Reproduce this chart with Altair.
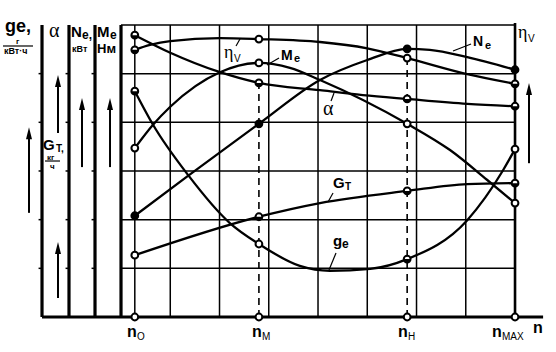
import altair as alt
import pandas as pd

# ---------------- data (grid units: x = n divisions 0..8, y = value divisions 0..6) ----------------
N_POS = [0.28, 2.80, 5.81, 8.00]
N_SUBS = ["O", "M", "H", "MAX"]
N_LABEL_X = [0.122, 2.660, 5.624, 7.533]
N_SUB_X = [0.325, 2.863, 5.827, 7.736]

ALPHA_X = [0.28, 1.00, 2.01, 2.80, 4.04, 4.91, 5.81, 7.03, 8.00]
ALPHA_Y = [5.79, 5.43, 5.03, 4.81, 4.66, 4.56, 4.48, 4.38, 4.33]

ETA_X = [0.28, 0.59, 1.00, 2.01, 2.80, 4.04, 5.00, 5.81, 7.03, 8.00]
ETA_Y = [5.49, 5.59, 5.67, 5.73, 5.71, 5.65, 5.52, 5.32, 4.99, 4.79]

NE_X = [0.28, 1.36, 2.80, 4.04, 5.00, 5.81, 6.27, 7.03, 8.00]
NE_Y = [2.08, 2.90, 3.97, 4.87, 5.28, 5.51, 5.49, 5.34, 5.08]

ME_X = [0.28, 0.65, 1.00, 2.01, 2.80, 3.43, 4.04, 5.81, 6.68, 7.43, 8.00]
ME_Y = [3.47, 3.95, 4.32, 5.03, 5.22, 5.12, 4.87, 3.97, 3.43, 2.82, 2.34]

GE_X = [0.28, 0.65, 1.36, 2.21, 2.80, 3.63, 4.24, 5.06, 5.81, 7.03, 7.76, 8.00]
GE_Y = [4.64, 3.95, 2.92, 1.93, 1.50, 1.05, 0.95, 0.99, 1.19, 1.99, 3.02, 3.45]

GT_X = [0.28, 2.80, 4.04, 5.81, 7.03, 8.00]
GT_Y = [1.27, 2.06, 2.34, 2.59, 2.73, 2.75]

SERIES = {
    "alpha": (ALPHA_X, ALPHA_Y),
    "eta": (ETA_X, ETA_Y),
    "Ne": (NE_X, NE_Y),
    "Me": (ME_X, ME_Y),
    "ge": (GE_X, GE_Y),
    "GT": (GT_X, GT_Y),
}
MARKER_TYPES = {
    "alpha": ["half", "half", "half", "half"],
    "eta": ["half", "open", "open", "half"],
    "Ne": ["filled", "filled", "filled", "filled"],
    "Me": ["open", "open", "open", "open"],
    "ge": ["half", "open", "half", "open"],
    "GT": ["open", "half", "half", "half"],
}

# left-hand scale columns (ge, alpha/GT, Ne, Me) and the right eta_v scale
LEFT_AXES = [-1.604, -1.056, -0.528, 0.0]
GRID_COLS = [1, 2, 3, 4, 5, 6, 7]
GRID_ROWS = [1, 2, 3, 4, 5, 6]
TICK_ROWS = [1, 2, 3, 4, 5]

ARROW_X = [-1.868, -1.279, -1.279, -0.792, -0.223, 8.284]
ARROW_TAIL = [2.14, 3.78, 0.39, 3.08, 3.08, 3.16]
ARROW_TIP = [3.90, 4.97, 1.54, 4.50, 4.50, 4.81]

X_DOM = [-2.457, 8.832]
Y_DOM = [-0.719, 6.513]

# ---------------- tables ----------------
xs = alt.Scale(domain=X_DOM, nice=False, zero=False)
ys = alt.Scale(domain=Y_DOM, nice=False, zero=False)


def seg_df(rows):
    return pd.DataFrame(rows, columns=["x", "y", "x2", "y2"])


grid_rows = [(c, 0, c, 6) for c in GRID_COLS]
grid_rows += [(0, r, 8, r) for r in GRID_ROWS]
grid_rows += [(N_POS[0], 0, N_POS[0], 6)]
grid_df = seg_df(grid_rows)

axis_rows = [(a, 0, a, 6) for a in LEFT_AXES]
axis_rows += [(LEFT_AXES[0], 0, 8.57, 0)]
axis_df = seg_df(axis_rows)
right_df = seg_df([(8.0, 0, 8.0, 6.04)])

tick_rows = [(a - 0.07, r, a, r) for a in LEFT_AXES[:3] for r in TICK_ROWS]
tick_df = seg_df(tick_rows)

dash_df = seg_df([(N_POS[1], 0, N_POS[1], 4.74), (N_POS[2], 0, N_POS[2], 5.45)])

leader_df = seg_df([
    (2.335, 5.568, 2.416, 5.712),
    (3.208, 5.322, 2.964, 5.178),
    (4.264, 4.438, 4.325, 4.602),
    (7.107, 5.609, 6.741, 5.465),
    (4.305, 2.548, 4.203, 2.363),
    (4.365, 1.315, 4.223, 0.966),
    (-2.396, 5.568, -1.787, 5.568),
    (-1.543, 3.205, -1.239, 3.205),
])

shaft_df = seg_df([(x, t0, x, t1 - 0.1) for x, t0, t1 in zip(ARROW_X, ARROW_TAIL, ARROW_TIP)])
head_df = pd.DataFrame({"x": ARROW_X, "y": ARROW_TIP})

line_rows = []
for name, (sx, sy) in SERIES.items():
    for i, (a, b) in enumerate(zip(sx, sy)):
        line_rows.append({"series": name, "x": a, "y": b, "o": i})
line_df = pd.DataFrame(line_rows)

mk_rows = []
for name, (sx, sy) in SERIES.items():
    for k, n in enumerate(N_POS):
        idx = min(range(len(sx)), key=lambda j: abs(sx[j] - n))
        mk_rows.append({"x": sx[idx], "y": sy[idx], "kind": MARKER_TYPES[name][k]})
for n in N_POS:
    mk_rows.append({"x": n, "y": 0.0, "kind": "open"})
mk_df = pd.DataFrame(mk_rows)

texts = [
    ("ge,", -2.355, 5.856, 18, "sansb"),
    ("г", -2.132, 5.609, 8, "sansb"),
    ("кВт·ч", -2.376, 5.404, 9, "sansb"),
    ("α", -1.462, 5.753, 20, "serif"),
    ("N", -1.015, 5.753, 15, "sansb"),
    ("e,", -0.792, 5.712, 12, "sansb"),
    ("кВт", -0.995, 5.445, 9, "sansb"),
    ("M", -0.487, 5.753, 15, "sansb"),
    ("e", -0.223, 5.712, 12, "sansb"),
    ("Нм", -0.487, 5.424, 13, "sansb"),
    ("G", -1.584, 3.431, 15, "sansb"),
    ("T,", -1.320, 3.390, 10, "sansb"),
    ("кг", -1.503, 3.236, 8, "sansb"),
    ("ч", -1.442, 3.041, 8, "sansb"),
    ("η", 8.061, 5.732, 18, "serif"),
    ("V", 8.264, 5.650, 10, "sans"),
    ("η", 2.091, 5.322, 18, "serif"),
    ("V", 2.294, 5.239, 10, "sans"),
    ("M", 3.249, 5.280, 14, "sansb"),
    ("e", 3.513, 5.239, 11, "sansb"),
    ("α", 4.102, 4.150, 20, "serif"),
    ("N", 7.147, 5.568, 14, "sansb"),
    ("e", 7.391, 5.506, 11, "sansb"),
    ("G", 4.305, 2.651, 15, "sansb"),
    ("T", 4.548, 2.609, 10, "sansb"),
    ("g", 4.305, 1.459, 15, "sansb"),
    ("e", 4.487, 1.418, 12, "sansb"),
    ("n", 8.365, -0.329, 16, "sansb"),
]
for lx, sx_, sub in zip(N_LABEL_X, N_SUB_X, N_SUBS):
    texts.append(("n", lx, -0.411, 16, "sansb"))
    texts.append((sub, sx_, -0.473, 10, "sans"))
text_df = pd.DataFrame(texts, columns=["t", "x", "y", "s", "g"])

# ---------------- layers ----------------
def rules(df, width, dash=None):
    kw = dict(color="black", strokeWidth=width, strokeCap="butt")
    if dash:
        kw["strokeDash"] = dash
    return alt.Chart(df).mark_rule(**kw).encode(
        x=alt.X("x:Q", scale=xs, axis=None),
        y=alt.Y("y:Q", scale=ys, axis=None),
        x2="x2:Q",
        y2="y2:Q",
    )


grid = rules(grid_df, 1.5)
axes = rules(axis_df, 3.2)
right = rules(right_df, 2.6)
ticks = rules(tick_df, 1.5)
dashed = rules(dash_df, 1.6, [7, 5])
leaders = rules(leader_df, 1.2)
shafts = rules(shaft_df, 2)

heads = alt.Chart(head_df).mark_point(
    shape="M 0 0 L -0.25 1 L 0.25 1 Z", size=576, filled=True, color="black", opacity=1
).encode(x=alt.X("x:Q", scale=xs, axis=None), y=alt.Y("y:Q", scale=ys, axis=None))

curves = alt.Chart(line_df).mark_line(
    color="black", strokeWidth=2.3, interpolate="monotone"
).encode(
    x=alt.X("x:Q", scale=xs, axis=None),
    y=alt.Y("y:Q", scale=ys, axis=None),
    detail="series:N",
    order="o:Q",
)

mxy = dict(x=alt.X("x:Q", scale=xs, axis=None), y=alt.Y("y:Q", scale=ys, axis=None))
base_pts = alt.Chart(mk_df).mark_point(
    shape="circle", size=46, filled=False, fill="white", fillOpacity=1,
    stroke="black", strokeWidth=2, opacity=1
).encode(**mxy)
filled_pts = alt.Chart(mk_df).transform_filter(alt.datum.kind == "filled").mark_point(
    shape="circle", size=46, filled=True, color="black", opacity=1
).encode(**mxy)
HALF = "M -1 0 L -0.92 0.38 L -0.71 0.71 L -0.38 0.92 L 0 1 L 0.38 0.92 L 0.71 0.71 L 0.92 0.38 L 1 0 Z"
half_pts = alt.Chart(mk_df).transform_filter(alt.datum.kind == "half").mark_point(
    shape=HALF, size=46, filled=True, color="black", opacity=1
).encode(**mxy)


def text_layer(group, font, weight):
    return alt.Chart(text_df).transform_filter(alt.datum.g == group).mark_text(
        font=font, fontWeight=weight, align="left", baseline="alphabetic", color="black"
    ).encode(
        x=alt.X("x:Q", scale=xs, axis=None),
        y=alt.Y("y:Q", scale=ys, axis=None),
        text="t:N",
        size=alt.Size("s:Q", scale=None),
    )


t_bold = text_layer("sansb", "Liberation Sans", "bold")
t_norm = text_layer("sans", "Liberation Sans", "normal")
t_serif = text_layer("serif", "Liberation Serif", "normal")

chart = alt.layer(
    grid, axes, right, ticks, dashed, leaders, shafts, heads, curves,
    base_pts, filled_pts, half_pts, t_bold, t_norm, t_serif
).properties(
    width=556, height=352, padding=0, autosize=alt.AutoSizeParams(type="none"),
    background="white"
).configure_view(stroke=None)

chart.save("out.html", embed_options={"renderer": "svg", "actions": False})
